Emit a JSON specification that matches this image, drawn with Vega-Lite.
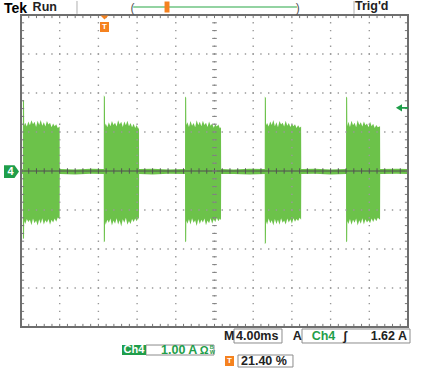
{
"$schema":"https://vega.github.io/schema/vega-lite/v6.json",
"width":387,"height":312,
"autosize":{"type":"none"},
"padding":{"left":21,"top":15,"right":15,"bottom":46},
"background":"#ffffff",
"config":{"view":{"stroke":null},"text":{"font":"Liberation Sans"}},
"datasets":{
"sig":[
{"t":0,"hi":0.05,"lo":-0.08},{"t":0.048,"hi":0.05,"lo":-0.08},{"t":0.05,"hi":1.83,"lo":-1.75},{"t":0.078,"hi":1.8,"lo":-1.72},{"t":0.082,"hi":1.16,"lo":-1.28},{"t":0.11,"hi":1.24,"lo":-1.36},{"t":0.15,"hi":1.14,"lo":-1.23},{"t":0.19,"hi":1.27,"lo":-1.31},{"t":0.23,"hi":1.17,"lo":-1.25},{"t":0.27,"hi":1.3,"lo":-1.39},{"t":0.31,"hi":1.2,"lo":-1.22},{"t":0.35,"hi":1.26,"lo":-1.34},{"t":0.39,"hi":1.13,"lo":-1.27},{"t":0.43,"hi":1.29,"lo":-1.4},{"t":0.47,"hi":1.18,"lo":-1.24},{"t":0.51,"hi":1.31,"lo":-1.35},{"t":0.55,"hi":1.16,"lo":-1.21},{"t":0.59,"hi":1.25,"lo":-1.37},{"t":0.63,"hi":1.14,"lo":-1.26},{"t":0.67,"hi":1.28,"lo":-1.33},{"t":0.71,"hi":1.19,"lo":-1.23},{"t":0.75,"hi":1.24,"lo":-1.38},{"t":0.79,"hi":1.12,"lo":-1.25},{"t":0.83,"hi":1.22,"lo":-1.32},{"t":0.87,"hi":1.15,"lo":-1.22},{"t":0.91,"hi":1.2,"lo":-1.3},{"t":0.95,"hi":1.1,"lo":-1.19},{"t":0.998,"hi":1.14,"lo":-1.24},{"t":1.002,"hi":0.05,"lo":-0.08},{"t":1.4,"hi":0.04,"lo":-0.09},{"t":1.8,"hi":0.06,"lo":-0.07},
{"t":2.138,"hi":0.05,"lo":-0.08},{"t":2.14,"hi":1.94,"lo":-1.83},{"t":2.168,"hi":1.9,"lo":-1.8},{"t":2.172,"hi":1.16,"lo":-1.3},{"t":2.19,"hi":1.22,"lo":-1.38},{"t":2.23,"hi":1.12,"lo":-1.25},{"t":2.27,"hi":1.25,"lo":-1.33},{"t":2.31,"hi":1.15,"lo":-1.22},{"t":2.35,"hi":1.28,"lo":-1.4},{"t":2.39,"hi":1.18,"lo":-1.27},{"t":2.43,"hi":1.24,"lo":-1.35},{"t":2.47,"hi":1.14,"lo":-1.21},{"t":2.51,"hi":1.3,"lo":-1.37},{"t":2.55,"hi":1.19,"lo":-1.26},{"t":2.59,"hi":1.26,"lo":-1.42},{"t":2.63,"hi":1.13,"lo":-1.24},{"t":2.67,"hi":1.27,"lo":-1.33},{"t":2.71,"hi":1.17,"lo":-1.2},{"t":2.75,"hi":1.29,"lo":-1.38},{"t":2.79,"hi":1.15,"lo":-1.28},{"t":2.83,"hi":1.23,"lo":-1.36},{"t":2.87,"hi":1.12,"lo":-1.23},{"t":2.91,"hi":1.21,"lo":-1.31},{"t":2.95,"hi":1.1,"lo":-1.22},{"t":2.99,"hi":1.18,"lo":-1.29},{"t":3.03,"hi":1.08,"lo":-1.2},{"t":3.048,"hi":1.12,"lo":-1.25},{"t":3.052,"hi":0.05,"lo":-0.08},{"t":3.4,"hi":0.06,"lo":-0.09},{"t":3.8,"hi":0.04,"lo":-0.07},
{"t":4.238,"hi":0.05,"lo":-0.08},{"t":4.24,"hi":1.91,"lo":-1.83},{"t":4.268,"hi":1.88,"lo":-1.8},{"t":4.272,"hi":1.18,"lo":-1.27},{"t":4.3,"hi":1.25,"lo":-1.35},{"t":4.34,"hi":1.13,"lo":-1.24},{"t":4.38,"hi":1.28,"lo":-1.37},{"t":4.42,"hi":1.16,"lo":-1.21},{"t":4.46,"hi":1.23,"lo":-1.33},{"t":4.5,"hi":1.12,"lo":-1.26},{"t":4.54,"hi":1.3,"lo":-1.41},{"t":4.58,"hi":1.17,"lo":-1.23},{"t":4.62,"hi":1.26,"lo":-1.36},{"t":4.66,"hi":1.15,"lo":-1.25},{"t":4.7,"hi":1.29,"lo":-1.32},{"t":4.74,"hi":1.18,"lo":-1.22},{"t":4.78,"hi":1.24,"lo":-1.39},{"t":4.82,"hi":1.13,"lo":-1.27},{"t":4.86,"hi":1.27,"lo":-1.34},{"t":4.9,"hi":1.16,"lo":-1.21},{"t":4.94,"hi":1.22,"lo":-1.35},{"t":4.98,"hi":1.11,"lo":-1.24},{"t":5.02,"hi":1.2,"lo":-1.31},{"t":5.06,"hi":1.14,"lo":-1.2},{"t":5.1,"hi":1.19,"lo":-1.29},{"t":5.14,"hi":1.09,"lo":-1.22},{"t":5.168,"hi":1.13,"lo":-1.26},{"t":5.172,"hi":0.05,"lo":-0.08},{"t":5.5,"hi":0.04,"lo":-0.08},{"t":5.9,"hi":0.06,"lo":-0.09},
{"t":6.298,"hi":0.05,"lo":-0.08},{"t":6.3,"hi":1.91,"lo":-1.88},{"t":6.328,"hi":1.87,"lo":-1.84},{"t":6.332,"hi":1.17,"lo":-1.29},{"t":6.36,"hi":1.23,"lo":-1.37},{"t":6.4,"hi":1.14,"lo":-1.22},{"t":6.44,"hi":1.27,"lo":-1.34},{"t":6.48,"hi":1.18,"lo":-1.26},{"t":6.52,"hi":1.31,"lo":-1.4},{"t":6.56,"hi":1.15,"lo":-1.23},{"t":6.6,"hi":1.25,"lo":-1.36},{"t":6.64,"hi":1.12,"lo":-1.25},{"t":6.68,"hi":1.28,"lo":-1.38},{"t":6.72,"hi":1.19,"lo":-1.21},{"t":6.76,"hi":1.24,"lo":-1.33},{"t":6.8,"hi":1.14,"lo":-1.27},{"t":6.84,"hi":1.29,"lo":-1.37},{"t":6.88,"hi":1.16,"lo":-1.22},{"t":6.92,"hi":1.23,"lo":-1.32},{"t":6.96,"hi":1.13,"lo":-1.24},{"t":7.0,"hi":1.21,"lo":-1.35},{"t":7.04,"hi":1.15,"lo":-1.21},{"t":7.08,"hi":1.2,"lo":-1.3},{"t":7.12,"hi":1.1,"lo":-1.23},{"t":7.16,"hi":1.17,"lo":-1.28},{"t":7.2,"hi":1.11,"lo":-1.2},{"t":7.238,"hi":1.14,"lo":-1.25},{"t":7.242,"hi":0.05,"lo":-0.08},{"t":7.6,"hi":0.06,"lo":-0.07},{"t":8.0,"hi":0.04,"lo":-0.09},
{"t":8.398,"hi":0.05,"lo":-0.08},{"t":8.4,"hi":1.91,"lo":-1.83},{"t":8.428,"hi":1.88,"lo":-1.8},{"t":8.432,"hi":1.15,"lo":-1.28},{"t":8.46,"hi":1.26,"lo":-1.36},{"t":8.5,"hi":1.13,"lo":-1.23},{"t":8.54,"hi":1.29,"lo":-1.38},{"t":8.58,"hi":1.17,"lo":-1.25},{"t":8.62,"hi":1.24,"lo":-1.33},{"t":8.66,"hi":1.12,"lo":-1.22},{"t":8.7,"hi":1.3,"lo":-1.4},{"t":8.74,"hi":1.18,"lo":-1.26},{"t":8.78,"hi":1.25,"lo":-1.35},{"t":8.82,"hi":1.14,"lo":-1.21},{"t":8.86,"hi":1.27,"lo":-1.37},{"t":8.9,"hi":1.17,"lo":-1.24},{"t":8.94,"hi":1.22,"lo":-1.32},{"t":8.98,"hi":1.12,"lo":-1.26},{"t":9.02,"hi":1.26,"lo":-1.34},{"t":9.06,"hi":1.15,"lo":-1.22},{"t":9.1,"hi":1.21,"lo":-1.31},{"t":9.14,"hi":1.1,"lo":-1.21},{"t":9.18,"hi":1.18,"lo":-1.29},{"t":9.22,"hi":1.12,"lo":-1.2},{"t":9.278,"hi":1.15,"lo":-1.25},{"t":9.282,"hi":0.05,"lo":-0.08},{"t":9.7,"hi":0.06,"lo":-0.07},{"t":10,"hi":0.05,"lo":-0.08}
],
"xt":[0,0.2,0.4,0.6,0.8,1,1.2,1.4,1.6,1.8,2,2.2,2.4,2.6,2.8,3,3.2,3.4,3.6,3.8,4,4.2,4.4,4.6,4.8,5,5.2,5.4,5.6,5.8,6,6.2,6.4,6.6,6.8,7,7.2,7.4,7.6,7.8,8,8.2,8.4,8.6,8.8,9,9.2,9.4,9.6,9.8,10],
"yt":[-4,-3.8,-3.6,-3.4,-3.2,-3,-2.8,-2.6,-2.4,-2.2,-2,-1.8,-1.6,-1.4,-1.2,-1,-0.8,-0.6,-0.4,-0.2,0,0.2,0.4,0.6,0.8,1,1.2,1.4,1.6,1.8,2,2.2,2.4,2.6,2.8,3,3.2,3.4,3.6,3.8,4],
"vg":[1,2,3,4,5,6,7,8,9],
"hg":[-3,-2,-1,1,2,3]
},
"layer":[
{"data":{"name":"sig"},"mark":{"type":"area","color":"#6cc24a","interpolate":"linear"},
 "encoding":{"x":{"field":"t","type":"quantitative","scale":{"domain":[0,10],"nice":false,"zero":false},"axis":null},
 "y":{"field":"hi","type":"quantitative","scale":{"domain":[-4,4],"nice":false,"zero":false},"axis":null},
 "y2":{"field":"lo"}}},
{"data":{"name":"vg"},"mark":{"type":"rule","color":"#999999","strokeWidth":1.4,"strokeDash":[1.4,6.4],"strokeDashOffset":0.7},
 "encoding":{"x":{"field":"data","type":"quantitative","scale":{"domain":[0,10],"nice":false,"zero":false},"axis":null},
 "y":{"datum":-4,"type":"quantitative","scale":{"domain":[-4,4],"nice":false,"zero":false},"axis":null},"y2":{"datum":4}}},
{"data":{"name":"hg"},"mark":{"type":"rule","color":"#999999","strokeWidth":1.4,"strokeDash":[1.4,6.34],"strokeDashOffset":0.7},
 "encoding":{"y":{"field":"data","type":"quantitative","scale":{"domain":[-4,4],"nice":false,"zero":false},"axis":null},
 "x":{"datum":0,"type":"quantitative","scale":{"domain":[0,10],"nice":false,"zero":false},"axis":null},"x2":{"datum":10}}},
{"data":{"values":[{}]},"mark":{"type":"rule","color":"#4d4d4d","strokeWidth":1},
 "encoding":{"y":{"datum":0,"type":"quantitative","scale":{"domain":[-4,4],"nice":false,"zero":false},"axis":null},
 "x":{"datum":0,"type":"quantitative","scale":{"domain":[0,10],"nice":false,"zero":false},"axis":null},"x2":{"datum":10}}},
{"data":{"name":"xt"},"mark":{"type":"rule","color":"#555555","strokeWidth":1},
 "encoding":{"x":{"field":"data","type":"quantitative","scale":{"domain":[0,10],"nice":false,"zero":false},"axis":null},
 "y":{"datum":0.07,"type":"quantitative","scale":{"domain":[-4,4],"nice":false,"zero":false},"axis":null},"y2":{"datum":-0.07}}},
{"data":{"name":"xt"},"mark":{"type":"rule","color":"#777777","strokeWidth":1},
 "encoding":{"x":{"field":"data","type":"quantitative","scale":{"domain":[0,10],"nice":false,"zero":false},"axis":null},
 "y":{"datum":4,"type":"quantitative","scale":{"domain":[-4,4],"nice":false,"zero":false},"axis":null},"y2":{"datum":3.92}}},
{"data":{"name":"xt"},"mark":{"type":"rule","color":"#777777","strokeWidth":1},
 "encoding":{"x":{"field":"data","type":"quantitative","scale":{"domain":[0,10],"nice":false,"zero":false},"axis":null},
 "y":{"datum":-4,"type":"quantitative","scale":{"domain":[-4,4],"nice":false,"zero":false},"axis":null},"y2":{"datum":-3.92}}},
{"data":{"name":"yt"},"mark":{"type":"rule","color":"#808080","strokeWidth":1},
 "encoding":{"y":{"field":"data","type":"quantitative","scale":{"domain":[-4,4],"nice":false,"zero":false},"axis":null},
 "x":{"datum":4.94,"type":"quantitative","scale":{"domain":[0,10],"nice":false,"zero":false},"axis":null},"x2":{"datum":5.06}}},
{"data":{"name":"yt"},"mark":{"type":"rule","color":"#777777","strokeWidth":1},
 "encoding":{"y":{"field":"data","type":"quantitative","scale":{"domain":[-4,4],"nice":false,"zero":false},"axis":null},
 "x":{"datum":0,"type":"quantitative","scale":{"domain":[0,10],"nice":false,"zero":false},"axis":null},"x2":{"datum":0.08}}},
{"data":{"name":"yt"},"mark":{"type":"rule","color":"#777777","strokeWidth":1},
 "encoding":{"y":{"field":"data","type":"quantitative","scale":{"domain":[-4,4],"nice":false,"zero":false},"axis":null},
 "x":{"datum":10,"type":"quantitative","scale":{"domain":[0,10],"nice":false,"zero":false},"axis":null},"x2":{"datum":9.92}}},
{"data":{"values":[{}]},"mark":{"type":"rect","fill":"#ffffff","fillOpacity":0,"stroke":"#6e6e6e","strokeWidth":2},
 "encoding":{"x":{"datum":0,"type":"quantitative","scale":{"domain":[0,10],"nice":false,"zero":false},"axis":null},"x2":{"datum":10},
 "y":{"datum":-4,"type":"quantitative","scale":{"domain":[-4,4],"nice":false,"zero":false},"axis":null},"y2":{"datum":4}}},
{"data":{"values":[{"x":1.447,"y":4.36,"y2":4.03},{"x":8.605,"y":4.36,"y2":4.03}]},"mark":{"type":"rule","color":"#b0b0b0","strokeWidth":1},
 "encoding":{"x":{"field":"x","type":"quantitative","scale":{"domain":[0,10],"nice":false,"zero":false},"axis":null},
 "y":{"field":"y","type":"quantitative","scale":{"domain":[-4,4],"nice":false,"zero":false},"axis":null},"y2":{"field":"y2"}}},
{"data":{"values":[{"x":2.9,"x2":7.13,"y":4.205}]},"mark":{"type":"rule","color":"#93d3a2","strokeWidth":2},
 "encoding":{"x":{"field":"x","type":"quantitative","scale":{"domain":[0,10],"nice":false,"zero":false},"axis":null},"x2":{"field":"x2"},
 "y":{"field":"y","type":"quantitative","scale":{"domain":[-4,4],"nice":false,"zero":false},"axis":null}}},
{"data":{"values":[{"x":2.88,"y":4.19,"text":"("},{"x":7.15,"y":4.19,"text":")"}]},"mark":{"type":"text","fontSize":12,"color":"#555555","align":"center","baseline":"middle"},
 "encoding":{"x":{"field":"x","type":"quantitative","scale":{"domain":[0,10],"nice":false,"zero":false},"axis":null},
 "y":{"field":"y","type":"quantitative","scale":{"domain":[-4,4],"nice":false,"zero":false},"axis":null},"text":{"field":"text"}}},
{"data":{"values":[{"x":5.504,"x2":6.744,"y":-4.051,"y2":-4.41},{"x":7.261,"x2":10.052,"y":-4.051,"y2":-4.41},{"x":3.23,"x2":4.987,"y":-4.462,"y2":-4.718},{"x":5.607,"x2":7.028,"y":-4.718,"y2":-5.026}]},
 "mark":{"type":"rect","fill":"#ffffff","stroke":"#8c8c8c","strokeWidth":1},
 "encoding":{"x":{"field":"x","type":"quantitative","scale":{"domain":[0,10],"nice":false,"zero":false},"axis":null},"x2":{"field":"x2"},
 "y":{"field":"y","type":"quantitative","scale":{"domain":[-4,4],"nice":false,"zero":false},"axis":null},"y2":{"field":"y2"}}},
{"data":{"values":[{"x":2.61,"x2":3.23,"y":-4.462,"y2":-4.718}]},"mark":{"type":"rect","fill":"#1f9e4a"},
 "encoding":{"x":{"field":"x","type":"quantitative","scale":{"domain":[0,10],"nice":false,"zero":false},"axis":null},"x2":{"field":"x2"},
 "y":{"field":"y","type":"quantitative","scale":{"domain":[-4,4],"nice":false,"zero":false},"axis":null},"y2":{"field":"y2"}}},
{"data":{"values":[{"x":-0.245,"y":-0.013}]},"mark":{"type":"point","filled":true,"opacity":1,"color":"#1f9e4a","size":225,"shape":"M-1,-0.85L0.4,-0.85L1,0L0.4,0.85L-1,0.85Z"},
 "encoding":{"x":{"field":"x","type":"quantitative","scale":{"domain":[0,10],"nice":false,"zero":false},"axis":null},
 "y":{"field":"y","type":"quantitative","scale":{"domain":[-4,4],"nice":false,"zero":false},"axis":null}}},
{"data":{"values":[{"x":9.845,"y":1.62}]},"mark":{"type":"point","filled":true,"opacity":1,"color":"#1f9e4a","size":150,"shape":"M-1,0L0,-0.6L0,0.6Z M0,-0.15L1,-0.15L1,0.15L0,0.15Z"},
 "encoding":{"x":{"field":"x","type":"quantitative","scale":{"domain":[0,10],"nice":false,"zero":false},"axis":null},
 "y":{"field":"y","type":"quantitative","scale":{"domain":[-4,4],"nice":false,"zero":false},"axis":null}}},
{"data":{"values":[{"x":2.158,"y":3.936}]},"mark":{"type":"point","filled":true,"opacity":1,"color":"#f5821f","size":64,"shape":"M-1,-0.5L1,-0.5L0,0.5Z"},
 "encoding":{"x":{"field":"x","type":"quantitative","scale":{"domain":[0,10],"nice":false,"zero":false},"axis":null},
 "y":{"field":"y","type":"quantitative","scale":{"domain":[-4,4],"nice":false,"zero":false},"axis":null}}},
{"data":{"values":[{"x":2.158,"y":3.692},{"x":5.388,"y":-4.872}]},"mark":{"type":"point","filled":true,"opacity":1,"color":"#f5821f","size":100,"shape":"M-0.9,-1L0.9,-1L0.9,1L-0.9,1Z"},
 "encoding":{"x":{"field":"x","type":"quantitative","scale":{"domain":[0,10],"nice":false,"zero":false},"axis":null},
 "y":{"field":"y","type":"quantitative","scale":{"domain":[-4,4],"nice":false,"zero":false},"axis":null}}},
{"data":{"values":[{"x":3.773,"y":4.205}]},"mark":{"type":"point","filled":true,"opacity":1,"color":"#f5821f","size":121,"shape":"M-0.45,-1L0.45,-1L0.45,1L-0.45,1Z"},
 "encoding":{"x":{"field":"x","type":"quantitative","scale":{"domain":[0,10],"nice":false,"zero":false},"axis":null},
 "y":{"field":"y","type":"quantitative","scale":{"domain":[-4,4],"nice":false,"zero":false},"axis":null}}},
{"data":{"values":[{"x":-0.27,"y":-0.013,"text":"4"},{"x":2.92,"y":-4.59,"text":"Ch4"}]},"mark":{"type":"text","fontSize":11,"fontWeight":"bold","color":"#ffffff","align":"center","baseline":"middle"},
 "encoding":{"x":{"field":"x","type":"quantitative","scale":{"domain":[0,10],"nice":false,"zero":false},"axis":null},
 "y":{"field":"y","type":"quantitative","scale":{"domain":[-4,4],"nice":false,"zero":false},"axis":null},"text":{"field":"text"}}},
{"data":{"values":[{"x":2.158,"y":3.692,"text":"T"},{"x":5.388,"y":-4.872,"text":"T"}]},"mark":{"type":"text","fontSize":8,"fontWeight":"bold","color":"#ffffff","align":"center","baseline":"middle"},
 "encoding":{"x":{"field":"x","type":"quantitative","scale":{"domain":[0,10],"nice":false,"zero":false},"axis":null},
 "y":{"field":"y","type":"quantitative","scale":{"domain":[-4,4],"nice":false,"zero":false},"axis":null},"text":{"field":"text"}}},
{"data":{"values":[{"x":-0.44,"y":4.064,"text":"Tek"}]},"mark":{"type":"text","fontSize":14,"fontWeight":"bold","color":"#000000","align":"left","baseline":"alphabetic"},
 "encoding":{"x":{"field":"x","type":"quantitative","scale":{"domain":[0,10],"nice":false,"zero":false},"axis":null},
 "y":{"field":"y","type":"quantitative","scale":{"domain":[-4,4],"nice":false,"zero":false},"axis":null},"text":{"field":"text"}}},
{"data":{"values":[{"x":0.3,"y":4.103,"text":"Run"},{"x":8.63,"y":4.128,"text":"Trig'd"}]},"mark":{"type":"text","fontSize":12.5,"fontWeight":"bold","color":"#222222","align":"left","baseline":"alphabetic"},
 "encoding":{"x":{"field":"x","type":"quantitative","scale":{"domain":[0,10],"nice":false,"zero":false},"axis":null},
 "y":{"field":"y","type":"quantitative","scale":{"domain":[-4,4],"nice":false,"zero":false},"axis":null},"text":{"field":"text"}}},
{"data":{"values":[{"x":5.245,"y":-4.333,"text":"M"},{"x":5.556,"y":-4.333,"text":"4.00ms"},{"x":7.02,"y":-4.333,"text":"A"},{"x":8.32,"y":-4.333,"text":"ʃ"},{"x":9.036,"y":-4.333,"text":"1.62 A"},{"x":5.685,"y":-4.974,"text":"21.40 %"}]},"mark":{"type":"text","fontSize":12.5,"fontWeight":"bold","color":"#222222","align":"left","baseline":"alphabetic"},
 "encoding":{"x":{"field":"x","type":"quantitative","scale":{"domain":[0,10],"nice":false,"zero":false},"axis":null},
 "y":{"field":"y","type":"quantitative","scale":{"domain":[-4,4],"nice":false,"zero":false},"axis":null},"text":{"field":"text"}}},
{"data":{"values":[{"x":7.51,"y":-4.333,"text":"Ch4"},{"x":3.618,"y":-4.692,"text":"1.00 A"}]},"mark":{"type":"text","fontSize":12.5,"fontWeight":"bold","color":"#1f9e4a","align":"left","baseline":"alphabetic"},
 "encoding":{"x":{"field":"x","type":"quantitative","scale":{"domain":[0,10],"nice":false,"zero":false},"axis":null},
 "y":{"field":"y","type":"quantitative","scale":{"domain":[-4,4],"nice":false,"zero":false},"axis":null},"text":{"field":"text"}}},
{"data":{"values":[{"x":4.62,"y":-4.692,"text":"Ω"}]},"mark":{"type":"text","fontSize":11,"fontWeight":"bold","color":"#1f9e4a","align":"left","baseline":"alphabetic"},
 "encoding":{"x":{"field":"x","type":"quantitative","scale":{"domain":[0,10],"nice":false,"zero":false},"axis":null},
 "y":{"field":"y","type":"quantitative","scale":{"domain":[-4,4],"nice":false,"zero":false},"axis":null},"text":{"field":"text"}}},
{"data":{"values":[{"x":4.88,"y":-4.575,"text":"B"},{"x":4.88,"y":-4.705,"text":"W"}]},"mark":{"type":"text","fontSize":5.5,"fontWeight":"bold","color":"#1f9e4a","align":"left","baseline":"alphabetic"},
 "encoding":{"x":{"field":"x","type":"quantitative","scale":{"domain":[0,10],"nice":false,"zero":false},"axis":null},
 "y":{"field":"y","type":"quantitative","scale":{"domain":[-4,4],"nice":false,"zero":false},"axis":null},"text":{"field":"text"}}}
]
}
